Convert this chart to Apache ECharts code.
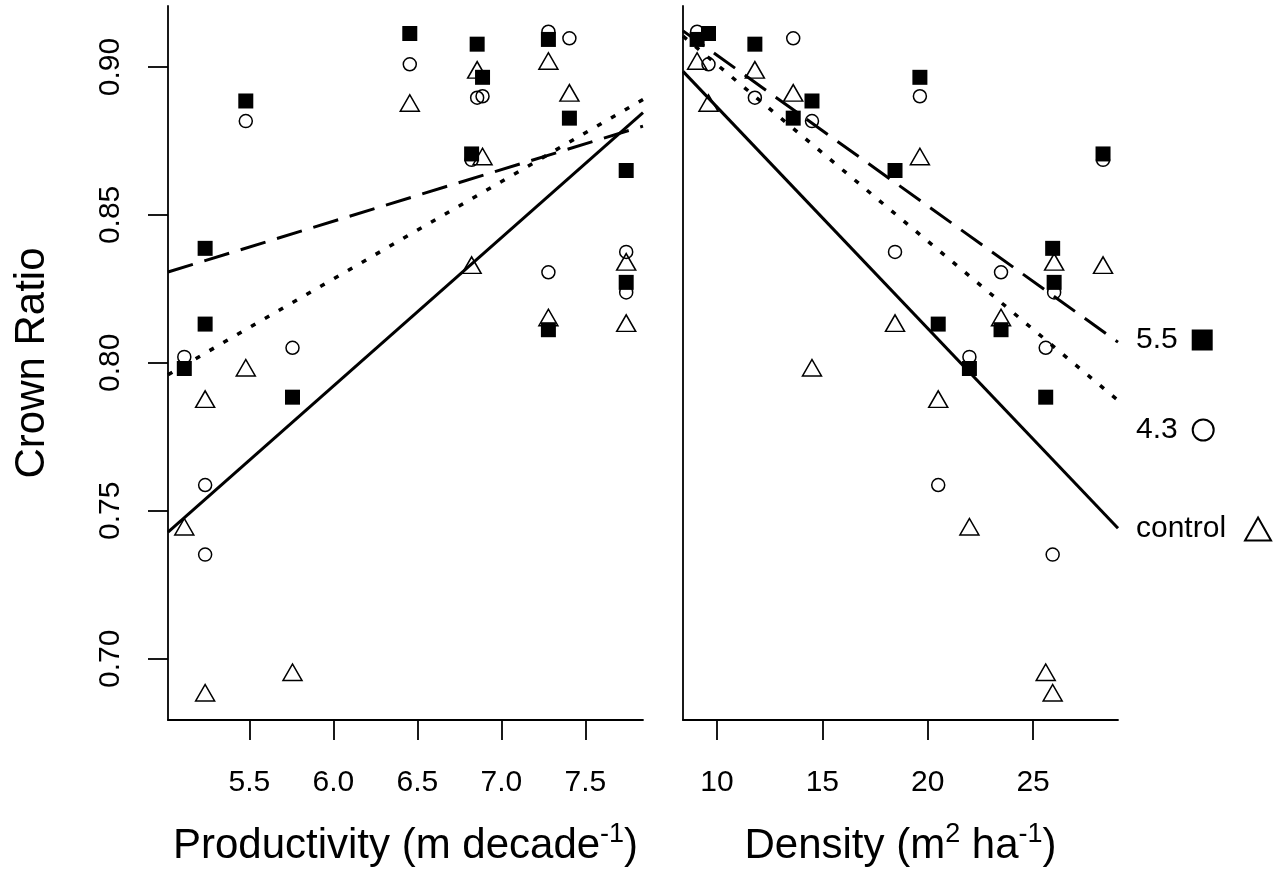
<!DOCTYPE html>
<html>
<head>
<meta charset="utf-8">
<script src="https://cdn.jsdelivr.net/npm/echarts@6/dist/echarts.min.js"></script>
<style>
  html, body { margin: 0; padding: 0; background: #fff; }
  #chart { width: 1274px; height: 872px; }
</style>
</head>
<body>
<div id="chart"></div>
<script>
// Crown ratio of 14 blocks under three treatments (5.5, 4.3, control),
// plotted against stand productivity and basal-area density.
const productivity = [6.455, 7.28, 6.856, 6.888, 5.479, 7.405, 6.823, 7.743, 5.237, 7.743, 5.237, 7.28, 5.113, 5.757];
const density      = [9.60, 9.06, 11.80, 19.63, 14.51, 13.62, 28.32, 18.45, 25.93, 26.00, 20.50, 23.48, 21.98, 25.60];

const crown55      = [0.9113, 0.9093, 0.9077, 0.8965, 0.8885, 0.8827, 0.8706, 0.8650, 0.8387, 0.8272, 0.8131, 0.8112, 0.7981, 0.7884];
const crown43      = [0.9009, 0.9119, 0.8896, 0.8901, 0.8817, 0.9097, 0.8686, 0.8375, 0.7352, 0.8238, 0.7587, 0.8306, 0.8020, 0.8051];
const crownControl = [0.8869, 0.9011, 0.8981, 0.8688, 0.7974, 0.8903, 0.8321, 0.8125, 0.6876, 0.8332, 0.7868, 0.8144, 0.7437, 0.6945];

const productivityTicks = [5.5, 6.0, 6.5, 7.0, 7.5];
const densityTicks = [10, 15, 20, 25];
const crownTicks = [0.70, 0.75, 0.80, 0.85, 0.90];

const productivityRange = [5.016, 7.843];
const densityRange = [8.39, 29.03];
const crownRange = [0.6793, 0.9206];

// Fitted lines, given as crown ratio at the two ends of each panel's x range
const fitProd55      = [0.8307, 0.8800];
const fitProd43      = [0.7960, 0.8890];
const fitProdControl = [0.7428, 0.8846];
const fitDens55      = [0.9122, 0.8070];
const fitDens43      = [0.9104, 0.7873];
const fitDensControl = [0.8985, 0.7441];

const FONT = 'Liberation Sans, Arial, sans-serif';
const INK = '#000';

const pairs = (xs, ys) => xs.map((x, i) => [x, ys[i]]);
const ends = (range, fit) => [[range[0], fit[0]], [range[1], fit[1]]];

const chart = echarts.init(document.getElementById('chart'), null, { renderer: 'canvas' });

const axisLine = { show: true, lineStyle: { color: INK, width: 1.8 } };
const tickStyle = { color: INK, width: 1.8 };

function xAxisFor(gridIndex, range, ticks, nameRich) {
  return {
    type: 'value', gridIndex, min: range[0], max: range[1],
    axisLine, splitLine: { show: false },
    axisTick: { show: true, length: 20, inside: false, lineStyle: tickStyle, customValues: ticks },
    axisLabel: {
      show: true, customValues: ticks, margin: 48,
      fontSize: 30, color: INK, fontFamily: FONT,
      formatter: v => (gridIndex === 0 ? v.toFixed(1) : String(Math.round(v)))
    },
    name: nameRich, nameLocation: 'middle', nameGap: 101,
    nameTextStyle: {
      color: INK, fontFamily: FONT,
      rich: {
        t: { fontSize: 42, lineHeight: 50, color: INK, fontFamily: FONT },
        s: { fontSize: 27, lineHeight: 27, verticalAlign: 'top', color: INK, fontFamily: FONT }
      }
    }
  };
}

const lineSeries = (name, xi, data, type, width, dash) => ({
  name, type: 'line', xAxisIndex: xi, yAxisIndex: xi, data,
  showSymbol: false, symbol: 'none', silent: true, clip: true, z: 2,
  lineStyle: { color: INK, width, opacity: 1, type: dash || type, cap: 'butt' }
});

const pointStyles = {
  '5.5':     { symbol: 'rect', symbolSize: 15,
               itemStyle: { color: INK, borderWidth: 0, opacity: 1 }, z: 5 },
  '4.3':     { symbol: 'circle', symbolSize: 13,
               itemStyle: { color: 'rgba(255,255,255,0)', borderColor: INK, borderWidth: 1.5, opacity: 1 }, z: 4 },
  'control': { symbol: 'triangle', symbolSize: [19, 16.5], symbolOffset: [0, -2.75],
               itemStyle: { color: 'rgba(255,255,255,0)', borderColor: INK, borderWidth: 1.5, opacity: 1 }, z: 3 }
};

const scatterSeries = (name, xi, data) => Object.assign({
  name, type: 'scatter', xAxisIndex: xi, yAxisIndex: xi, data, silent: true,
  emphasis: { disabled: true }
}, pointStyles[name]);

const legendFor = (name, top, w, h, gapPad) => ({
  data: [name], left: 1136, top, orient: 'horizontal', align: 'right',
  padding: 0, itemWidth: w, itemHeight: h, selectedMode: false,
  textStyle: { fontSize: 30, color: INK, fontFamily: FONT, padding: [0, gapPad, 0, 0] }
});

chart.setOption({
  animation: false,
  backgroundColor: '#fff',
  grid: [
    { left: 168, top: 6, width: 475, height: 719 },
    { left: 683, top: 6, width: 435, height: 719 }
  ],
  xAxis: [
    xAxisFor(0, productivityRange, productivityTicks, '{t|Productivity (m decade}{s|-1}{t|)}'),
    xAxisFor(1, densityRange, densityTicks, '{t|Density (m}{s|2}{t| ha}{s|-1}{t|)}')
  ],
  yAxis: [
    {
      type: 'value', gridIndex: 0, min: crownRange[0], max: crownRange[1],
      axisLine, splitLine: { show: false },
      axisTick: { show: true, length: 20, lineStyle: tickStyle, customValues: crownTicks },
      axisLabel: {
        show: true, customValues: crownTicks, rotate: 90, margin: 42,
        fontSize: 30, color: INK, fontFamily: FONT, formatter: v => v.toFixed(2)
      },
      name: 'Crown Ratio', nameLocation: 'middle', nameRotate: 90, nameGap: 115,
      nameTextStyle: { fontSize: 42, color: INK, fontFamily: FONT }
    },
    {
      type: 'value', gridIndex: 1, min: crownRange[0], max: crownRange[1],
      axisLine, splitLine: { show: false },
      axisTick: { show: false }, axisLabel: { show: false }
    }
  ],
  legend: [
    legendFor('5.5', 325, 21, 21, 9),
    legendFor('4.3', 415, 21, 21, 10),
    legendFor('control', 514, 26, 23, 14)
  ],
  series: [
    lineSeries('fit 5.5', 0, ends(productivityRange, fitProd55), 'dashed', 3, [26, 12]),
    lineSeries('fit 4.3', 0, ends(productivityRange, fitProd43), 'dotted', 3.5, [5, 11]),
    lineSeries('fit control', 0, ends(productivityRange, fitProdControl), 'solid', 3),
    lineSeries('fit 5.5 density', 1, ends(densityRange, fitDens55), 'dashed', 3, [26, 12]),
    lineSeries('fit 4.3 density', 1, ends(densityRange, fitDens43), 'dotted', 3.5, [5, 11]),
    lineSeries('fit control density', 1, ends(densityRange, fitDensControl), 'solid', 3),

    scatterSeries('control', 0, pairs(productivity, crownControl)),
    scatterSeries('4.3', 0, pairs(productivity, crown43)),
    scatterSeries('5.5', 0, pairs(productivity, crown55)),
    scatterSeries('control', 1, pairs(density, crownControl)),
    scatterSeries('4.3', 1, pairs(density, crown43)),
    scatterSeries('5.5', 1, pairs(density, crown55))
  ]
});
</script>
</body>
</html>
